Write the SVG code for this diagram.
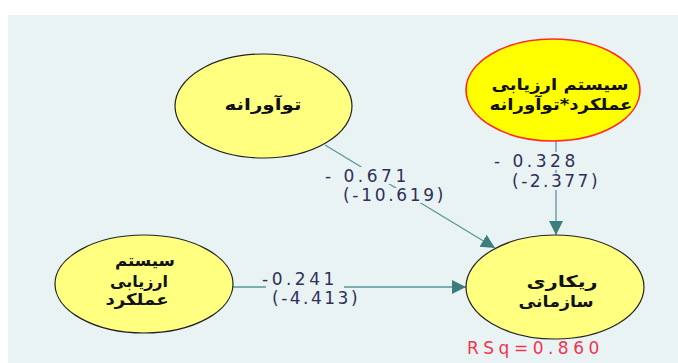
<svg xmlns="http://www.w3.org/2000/svg" width="678" height="363" viewBox="0 0 678 363">
  <defs>
    <marker id="arrow" markerUnits="userSpaceOnUse" markerWidth="16" markerHeight="16" refX="14" refY="7" orient="auto">
      <path d="M0,0 L14,7 L0,14 z" fill="#3E7D7E"/>
    </marker>
    <style>
      .node { fill: #FFFF80; stroke: #222222; stroke-width: 1.2; }
      .node-hot { fill: #FFFF00; stroke: #FF2A2A; stroke-width: 1.6; }
      .fa { font-family: "DejaVu Sans", sans-serif; font-weight: bold; font-size: 16px; fill: #111111; text-anchor: middle; }
      .edge { stroke: #5A9696; stroke-width: 1.3; fill: none; }
      .lbl { font-family: "DejaVu Sans", sans-serif; font-size: 17px; fill: #2F2F5A; letter-spacing: 3.5px; }
      .lbl.tight { letter-spacing: 2.7px; }
      .lbl.tighter { letter-spacing: 2.5px; }
      .mask { fill: #EAF3F4; }
      .rsq { font-family: "DejaVu Sans", sans-serif; font-size: 17px; fill: #F2344F; letter-spacing: 4.5px; }
    </style>
  </defs>

  <!-- canvas -->
  <rect x="0" y="0" width="678" height="363" fill="#FFFFFF"/>
  <rect x="8" y="15" width="670" height="348" fill="#EAF3F4"/>

  <!-- connectors with path coefficients and t-values -->
  <g id="connectors">
    <line class="edge" x1="325" y1="145" x2="495" y2="248" marker-end="url(#arrow)"/>
    <line class="edge" x1="556" y1="141" x2="556" y2="235" stroke-width="2" marker-end="url(#arrow)"/>
    <line class="edge" x1="233" y1="287" x2="466" y2="287" stroke-width="1.6" marker-end="url(#arrow)"/>

    <rect class="mask" x="322" y="167" width="90" height="17"/>
    <rect class="mask" x="340" y="188" width="108" height="15"/>
    <text class="lbl" x="325" y="182">- 0.671</text>
    <text class="lbl tight" x="343" y="201">(-10.619)</text>

    <rect class="mask" x="492" y="152" width="88" height="18"/>
    <rect class="mask" x="508" y="173" width="94" height="17"/>
    <text class="lbl" x="494" y="167">- 0.328</text>
    <text class="lbl tighter" x="512" y="187">(-2.377)</text>

    <rect class="mask" x="266" y="274" width="78" height="16"/>
    <text class="lbl" x="262" y="285">-0.241</text>
    <text class="lbl tighter" x="272" y="304">(-4.413)</text>
  </g>

  <g id="node-innovative">
    <ellipse class="node" cx="263.5" cy="106" rx="88.5" ry="52"/>
    <text class="fa" x="263" y="110" textLength="77" lengthAdjust="spacingAndGlyphs">توآورانه</text>
  </g>

  <g id="node-interaction">
    <ellipse class="node-hot" cx="553" cy="90" rx="87" ry="51"/>
    <text class="fa" x="560" y="90" textLength="137" lengthAdjust="spacingAndGlyphs">سیستم ارزیابی</text>
    <text class="fa" x="561" y="110" textLength="143" lengthAdjust="spacingAndGlyphs">عملکرد*توآورانه</text>
  </g>

  <g id="node-appraisal">
    <ellipse class="node" cx="144" cy="284" rx="89" ry="49"/>
    <text class="fa" x="145" y="266" textLength="60" lengthAdjust="spacingAndGlyphs">سیستم</text>
    <text class="fa" x="139" y="287" textLength="58" lengthAdjust="spacingAndGlyphs">ارزیابی</text>
    <text class="fa" x="137" y="305" textLength="63" lengthAdjust="spacingAndGlyphs">عملکرد</text>
  </g>

  <g id="node-outcome">
    <ellipse class="node" cx="555" cy="287" rx="89" ry="52"/>
    <text class="fa" x="562" y="287" textLength="71" lengthAdjust="spacingAndGlyphs">ریکاری</text>
    <text class="fa" x="556" y="307" textLength="75" lengthAdjust="spacingAndGlyphs">سازمانی</text>
    <text class="rsq" x="467" y="354">RSq=0.860</text>
  </g>
</svg>
